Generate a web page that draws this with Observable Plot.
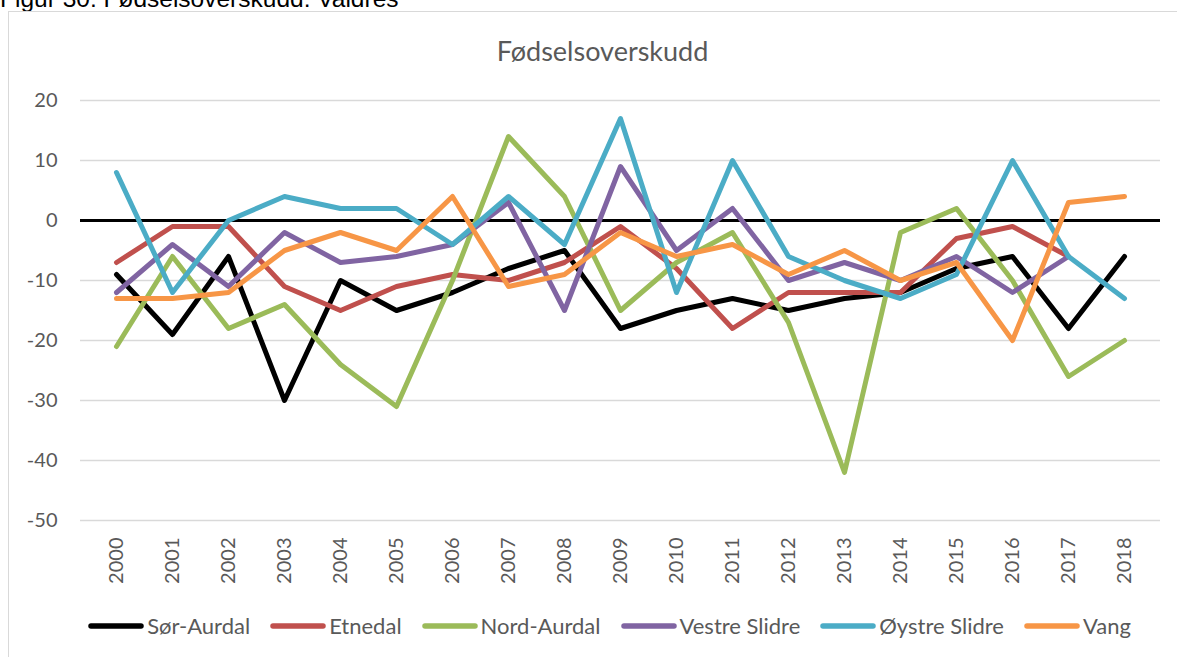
<!DOCTYPE html>
<html>
<head>
<meta charset="utf-8">
<script src="https://cdn.jsdelivr.net/npm/d3@7"></script>
<script src="https://cdn.jsdelivr.net/npm/@observablehq/plot@0.6"></script>
<style>
  html, body { margin: 0; padding: 0; background: #fff; }
  body { width: 1177px; height: 657px; overflow: hidden; position: relative; font-family: Lato, sans-serif; }
  #fig { position: absolute; left: 0; top: -13px; font-family: "Liberation Sans", Arial, sans-serif; font-size: 24.5px; line-height: 24px; color: #000; white-space: nowrap; }
  #frame { position: absolute; left: 8px; top: 11px; width: 1185px; height: 670px; border: 1px solid #d9d9d9; box-sizing: border-box; }
  #title { position: absolute; left: 0; width: 1205px; top: 37px; text-align: center; font-size: 27px; line-height: 27px; color: #595959; }
  #chart { position: absolute; left: 0; top: 0; }
  #legend { position: absolute; left: 0; width: 1219px; top: 612px; display: flex; justify-content: center; align-items: center; font-size: 22px; line-height: 28px; color: #595959; }
  .item { display: flex; align-items: center; margin: 0 10px; }
  .item svg { display: block; margin-right: 3px; }
</style>
</head>
<body>
<div id="fig">Figur 30: Fødselsoverskudd: Valdres</div>
<div id="frame"></div>
<div id="title">Fødselsoverskudd</div>
<div id="chart"></div>
<div id="legend"></div>
<script>
const years = [2000, 2001, 2002, 2003, 2004, 2005, 2006, 2007, 2008, 2009, 2010, 2011, 2012, 2013, 2014, 2015, 2016, 2017, 2018];
const seriesNames = ["Sør-Aurdal", "Etnedal", "Nord-Aurdal", "Vestre Slidre", "Øystre Slidre", "Vang"];
const seriesColors = ["#000000", "#C0504D", "#9BBB59", "#8064A2", "#4BACC6", "#F79646"];
const sorAurdal    = [-9, -19, -6, -30, -10, -15, -12, -8, -5, -18, -15, -13, -15, -13, -12, -8, -6, -18, -6];
const etnedal      = [-7, -1, -1, -11, -15, -11, -9, -10, -7, -1, -8, -18, -12, -12, -12, -3, -1, -6, null];
const nordAurdal   = [-21, -6, -18, -14, -24, -31, -10, 14, 4, -15, -7, -2, -17, -42, -2, 2, -10, -26, -20];
const vestreSlidre = [-12, -4, -11, -2, -7, -6, -4, 3, -15, 9, -5, 2, -10, -7, -10, -6, -12, -6, null];
const oystreSlidre = [8, -12, 0, 4, 2, 2, -4, 4, -4, 17, -12, 10, -6, -10, -13, -9, 10, -6, -13];
const vang         = [-13, -13, -12, -5, -2, -5, 4, -11, -9, -2, -6, -4, -9, -5, -10, -7, -20, 3, 4];
const yTicks = [20, 10, 0, -10, -20, -30, -40, -50];

const seriesValues = [sorAurdal, etnedal, nordAurdal, vestreSlidre, oystreSlidre, vang];
const data = [];
seriesNames.forEach((name, i) => {
  years.forEach((yr, j) => data.push({series: name, year: yr, value: seriesValues[i][j]}));
});

const chart = Plot.plot({
  width: 1177,
  height: 600,
  marginTop: 100,
  marginBottom: 80,
  marginLeft: 80,
  marginRight: 17,
  style: {fontFamily: "Lato, sans-serif", fontSize: "20px", color: "#595959", background: "transparent", overflow: "visible"},
  x: {type: "point", domain: years, padding: 0.5, label: null},
  y: {domain: [-50, 20], label: null},
  color: {domain: seriesNames, range: seriesColors},
  marks: [
    Plot.ruleY(yTicks.filter(d => d !== 0), {stroke: "#d9d9d9", strokeWidth: 1.3}),
    Plot.ruleY([0], {stroke: "#000", strokeWidth: 3}),
    Plot.axisY({ticks: yTicks, tickSize: 0, tickPadding: 23, tickFormat: d => String(d), fontSize: 20}),
    Plot.axisX({tickRotate: -90, tickSize: 0, tickPadding: 17, tickFormat: d => String(d), fontSize: 20}),
    Plot.line(data, {x: "year", y: "value", z: "series", stroke: "series", strokeWidth: 5, strokeLinejoin: "round", strokeLinecap: "round", defined: d => d.value != null})
  ]
});
document.getElementById("chart").appendChild(chart);

const legend = document.getElementById("legend");
seriesNames.forEach((name, i) => {
  const item = document.createElement("div");
  item.className = "item";
  item.innerHTML = `<svg width="56" height="8"><line x1="3" y1="4" x2="53" y2="4" stroke="${seriesColors[i]}" stroke-width="5.5" stroke-linecap="round"/></svg><span>${name}</span>`;
  legend.appendChild(item);
});
</script>
</body>
</html>
